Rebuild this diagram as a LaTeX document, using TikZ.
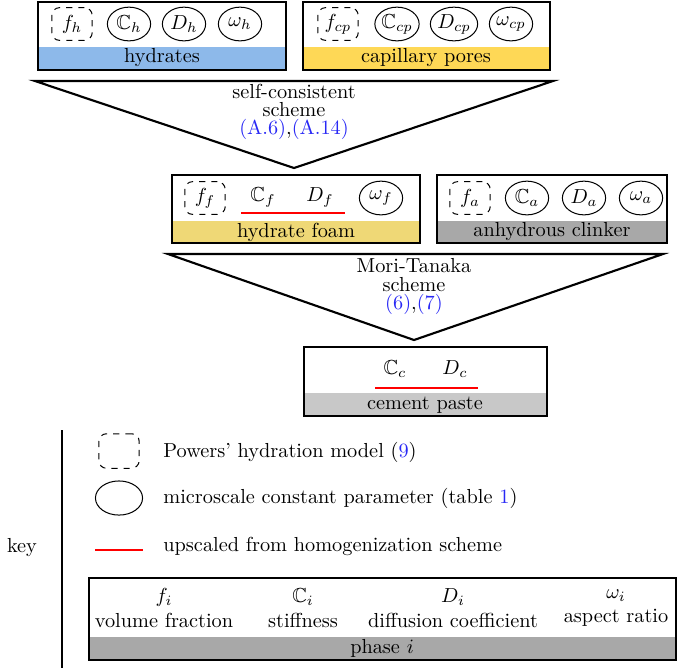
\documentclass[tikz,border=0pt]{standalone}
\usepackage{amssymb}
\usetikzlibrary{shapes.geometric}
\definecolor{hydblue}{RGB}{141,185,234}
\definecolor{capyellow}{RGB}{254,216,86}
\definecolor{foamyellow}{RGB}{239,216,118}
\definecolor{clinkgray}{RGB}{168,168,168}
\definecolor{pastegray}{RGB}{200,200,200}
\definecolor{refblue}{RGB}{40,40,245}
\newcommand{\rf}[1]{\textcolor{refblue}{#1}}
\tikzset{
 param/.style={draw, ellipse, line width=0.5pt, minimum width=21.3pt, minimum height=16.6pt, inner sep=0pt},
 powers/.style={draw, dashed, rounded corners=3.8pt, line width=0.5pt, minimum width=19.9pt, minimum height=16.1pt, inner sep=0pt},
 frame/.style={line width=1.05pt},
 upsc/.style={red, line width=1.15pt},
 plain/.style={inner sep=0pt},
 scheme/.style={align=center, inner sep=0pt},
 sline/.style={inner sep=0pt, anchor=base, text height=6.9pt, text depth=0pt},
 sline3/.style={inner sep=0pt, anchor=base, text height=6.2pt, text depth=2.3pt},
}
\begin{document}
\begin{tikzpicture}[x=0.4925pt,y=-0.4925pt]
\useasboundingbox (0,0) rectangle (679,668);
% ---------- hydrates
\fill[hydblue] (38,47) rectangle (286,70);
\draw[frame] (38,2) rectangle (286,70);
\node[plain] (hydl) at (162,58) {hydrates};
\node[powers] (fh) at (72,24) {$f_h$};
\node[param] (Ch) at (129,24) {$\mathbb{C}_h$};
\node[param] (Dh) at (184,24) {$D_h$};
\node[param] (wh) at (240,24) {$\omega_h$};
% ---------- capillary pores
\fill[capyellow] (303,47) rectangle (550,70);
\draw[frame] (303,2) rectangle (550,70);
\node[plain] (capl) at (426,58) {capillary pores};
\node[powers] (fcp) at (338,24) {$f_{cp}$};
\node[param] (Ccp) at (397,24) {$\mathbb{C}_{cp}$};
\node[param] (Dcp) at (454,24) {$D_{cp}$};
\node[param] (wcp) at (511,24) {$\omega_{cp}$};
% ---------- triangle 1
\draw[frame, line join=miter] (35,81) -- (553,81) -- (294,168) -- cycle;
\node[sline] (sc1) at (294,98) {self-consistent};
\node[sline] (sc2) at (294,116.5) {scheme};
\node[sline3] (sc3) at (294,134) {\rf{(A.6)},\rf{(A.14)}};
% ---------- hydrate foam
\fill[foamyellow] (172,221) rectangle (420,243);
\draw[frame] (172,175) rectangle (420,243);
\node[plain] (foaml) at (296,232) {hydrate foam};
\node[powers] (ff) at (205,198) {$f_f$};
\node[plain] (Cf) at (263,197) {$\mathbb{C}_f$};
\node[plain] (Df) at (320,197) {$D_f$};
\node[param] (wf) at (381,198) {$\omega_f$};
\draw[upsc] (241,213) -- (345,213);
% ---------- anhydrous clinker
\fill[clinkgray] (437,221) rectangle (667,243);
\draw[frame] (437,175) rectangle (667,243);
\node[plain] (clkl) at (552,232) {anhydrous clinker};
\node[powers] (fa) at (470,198) {$f_a$};
\node[param] (Ca) at (527,198) {$\mathbb{C}_a$};
\node[param] (Da) at (584,198) {$D_a$};
\node[param] (wa) at (641,198) {$\omega_a$};
% ---------- triangle 2
\draw[frame, line join=miter] (168,254) -- (663,254) -- (414,340) -- cycle;
\node[sline] (mt1) at (414,272) {Mori-Tanaka};
\node[sline] (mt2) at (414,291) {scheme};
\node[sline3] (mt3) at (414,309) {\rf{(6)},\rf{(7)}};
% ---------- cement paste
\fill[pastegray] (304,393) rectangle (547,416);
\draw[frame] (304,347) rectangle (547,416);
\node[plain] (cpl) at (425,405) {cement paste};
\node[plain] (Cc) at (395,369) {$\mathbb{C}_c$};
\node[plain] (Dc) at (455,369) {$D_c$};
\draw[upsc] (375,388) -- (478,388);
% ---------- key
\draw[line width=1.05pt] (62,430) -- (62,668);
\node[plain] (key) at (22,548) {key};
\node[powers, minimum width=19.9pt, minimum height=17pt] (kp) at (119,451) {};
\node[plain, anchor=west] (kpt) at (163,452) {Powers' hydration model (\rf{9})};
\node[param, minimum width=23.2pt, minimum height=16.8pt] (ke) at (119,498) {};
\node[plain, anchor=west] (ket) at (163,498) {microscale constant parameter (table \rf{1})};
\draw[upsc] (95,550) -- (143,550);
\node[plain, anchor=west] (kut) at (163,546) {upscaled from homogenization scheme};
% ---------- phase i
\fill[clinkgray] (89,637) rectangle (676,660);
\draw[frame] (89,578) rectangle (676,660);
\node[plain] (phl) at (382,648) {phase $i$};
\node[scheme] (pf) at (164,608) {$f_i$\\volume fraction};
\node[scheme] (pC) at (303,608) {$\mathbb{C}_i$\\stiffness};
\node[scheme] (pD) at (453,608) {$D_i$\\diffusion coefficient};
\node[scheme] (pw) at (616,608) {$\omega_i$\\aspect ratio};
\end{tikzpicture}
\end{document}
